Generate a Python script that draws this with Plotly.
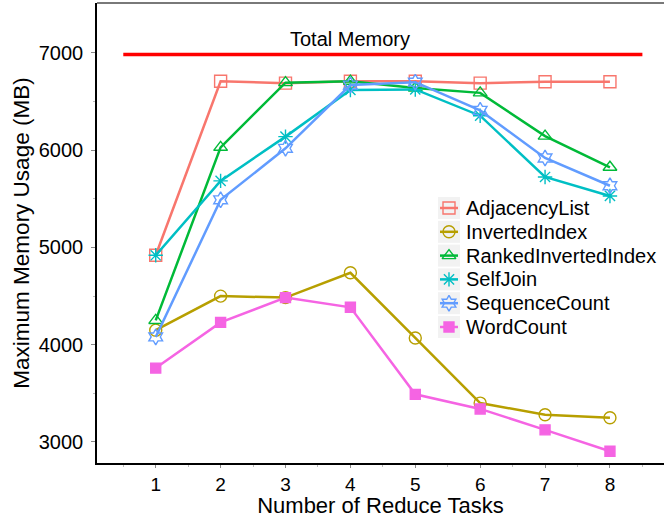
import plotly.graph_objects as go

# Number of reduce tasks on the x axis
reduce_tasks = [1, 2, 3, 4, 5, 6, 7, 8]

# Maximum memory usage (MB) per job
adjacency_list = [4920, 6710, 6690, 6710, 6710, 6690, 6705, 6705]
inverted_index = [4150, 4500, 4485, 4740, 4070, 3400, 3280, 3250]
ranked_inverted_index = [4250, 6030, 6695, 6710, 6640, 6590, 6145, 5825]
self_join = [4920, 5685, 6140, 6620, 6625, 6355, 5725, 5530]
sequence_count = [4080, 5490, 6020, 6670, 6700, 6410, 5920, 5635]
word_count = [3760, 4230, 4485, 4385, 3490, 3340, 3125, 2905]

total_memory = 6985
total_span = [0.5, 8.5]
total_label = "Total Memory"

series_names = ["AdjacencyList", "InvertedIndex", "RankedInvertedIndex",
                "SelfJoin", "SequenceCount", "WordCount"]
series_values = [adjacency_list, inverted_index, ranked_inverted_index,
                 self_join, sequence_count, word_count]
series_colors = ["#F8766D", "#B79F00", "#00BA38", "#00BFC4", "#619CFF", "#F564E3"]
series_symbols = ["square-open", "circle-open", "triangle-up-open",
                  "asterisk-open", "hexagram-open", "square"]

y_ticks = [3000, 4000, 5000, 6000, 7000]

FONT = "Liberation Sans, Arial, sans-serif"

# figure / panel geometry in pixels
W, H = 664, 518
ML, MR, MT, MB = 97, 0, 3, 55
PW, PH = W - ML - MR, H - MT - MB


def px_x(px):
    return (px - ML) / PW


def px_y(py):
    return (H - MB - py) / PH


def marker_style(sym, col):
    return dict(symbol=sym, size=12 if sym != "square" else 10,
                color=col, line=dict(color=col, width=1.4))


fig = go.Figure()

fig.add_trace(go.Scatter(
    x=total_span, y=[total_memory, total_memory], mode="lines",
    line=dict(color="#FF0000", width=3.5), showlegend=False, hoverinfo="skip"))

for name, vals, col, sym in zip(series_names, series_values, series_colors, series_symbols):
    fig.add_trace(go.Scatter(
        x=reduce_tasks, y=vals, name=name, mode="lines+markers",
        line=dict(color=col, width=2.5), marker=marker_style(sym, col),
        showlegend=False,
    ))

fig.add_annotation(x=4, y=total_memory, yshift=15,
                   text=total_label, showarrow=False,
                   font=dict(size=20, color="black", family=FONT))

# top panel edge
fig.add_shape(type="line", xref="paper", yref="paper", x0=0, x1=1, y0=1, y1=1,
              line=dict(color="#4d4d4d", width=1.5))

# legend drawn as keys (grey box, line, marker) plus labels
KEY_L, KEY_R, KEY_H = 438, 460, 22
ROW0, ROW_STEP = 208, 23.8
TEXT_X = 464
key_cx = (KEY_L + KEY_R) / 2
for i, (name, col, sym) in enumerate(zip(series_names, series_colors, series_symbols)):
    yc = ROW0 + ROW_STEP * i
    fig.add_shape(type="rect", xref="paper", yref="paper", layer="below",
                  x0=px_x(KEY_L), x1=px_x(KEY_R),
                  y0=px_y(yc + KEY_H / 2), y1=px_y(yc - KEY_H / 2),
                  fillcolor="#F2F2F2", line=dict(width=0))
    fig.add_shape(type="line", xref="paper", yref="paper", layer="below",
                  x0=px_x(KEY_L + 2), x1=px_x(KEY_R - 2),
                  y0=px_y(yc), y1=px_y(yc),
                  line=dict(color=col, width=2.5))
    fig.add_trace(go.Scatter(
        x=[px_x(key_cx)], y=[px_y(yc)], xaxis="x2", yaxis="y2",
        mode="markers", marker=marker_style(sym, col), showlegend=False,
        hoverinfo="skip", cliponaxis=False))
    fig.add_annotation(xref="paper", yref="paper", x=px_x(TEXT_X), y=px_y(yc),
                       xanchor="left", yanchor="middle", text=name, showarrow=False,
                       font=dict(size=20, color="black", family=FONT))

fig.update_layout(
    width=W, height=H,
    margin=dict(l=ML, r=MR, t=MT, b=MB),
    paper_bgcolor="white", plot_bgcolor="white",
    font=dict(family=FONT, color="black"),
    showlegend=False,
    xaxis=dict(range=[0.095, 8.833], tickvals=reduce_tasks,
               ticks="outside", ticklen=3, tickcolor="#888", tickwidth=1,
               minor=dict(tickvals=[0.5 + i for i in range(9)], ticks="outside",
                          ticklen=2, tickcolor="#bbb"),
               showline=True, linecolor="black", linewidth=1.5,
               showgrid=False, zeroline=False,
               tickfont=dict(size=19, color="black"),
               title=dict(text="Number of Reduce Tasks", font=dict(size=22), standoff=3)),
    yaxis=dict(range=[2784, 7514], tickvals=y_ticks,
               ticks="outside", ticklen=4, tickcolor="#888", tickwidth=1,
               ticklabelstandoff=4,
               minor=dict(tickvals=[3500, 4500, 5500, 6500], ticks="outside",
                          ticklen=2, tickcolor="#bbb"),
               showline=True, linecolor="black", linewidth=1.5,
               showgrid=False, zeroline=False,
               tickfont=dict(size=20, color="black"),
               title=dict(text="Maximum Memory Usage (MB)", font=dict(size=22.5), standoff=3)),
    xaxis2=dict(overlaying="x", anchor="y2", range=[0, 1], visible=False, fixedrange=True),
    yaxis2=dict(overlaying="y", anchor="x2", range=[0, 1], visible=False, fixedrange=True),
)

fig.write_html("out.html")
